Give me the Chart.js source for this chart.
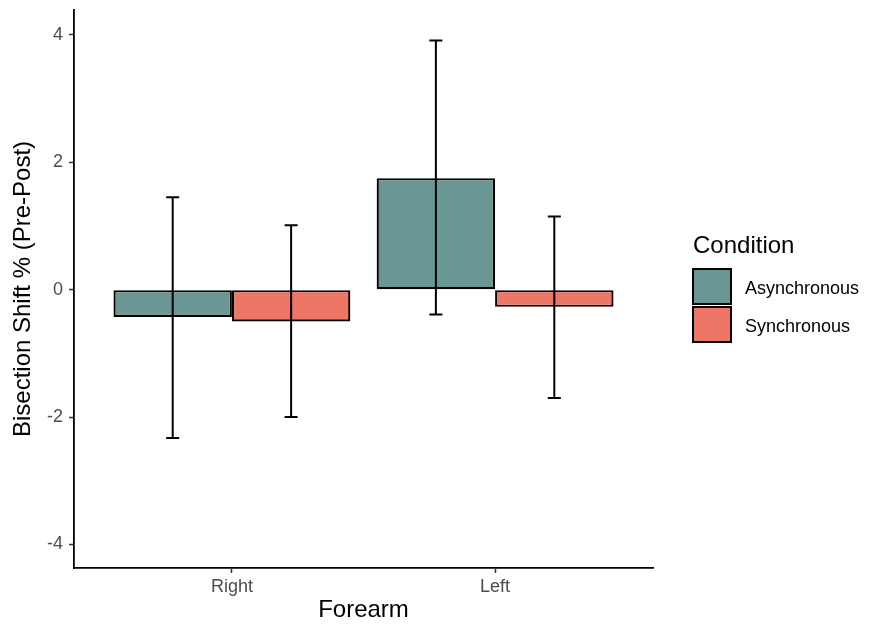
<!DOCTYPE html>
<html>
<head>
<meta charset="utf-8">
<script src="https://cdn.jsdelivr.net/npm/chart.js@4.4.0/dist/chart.umd.min.js"></script>
<style>
  html, body { margin: 0; padding: 0; background: #fff; }
  #box { width: 878px; height: 625px; }
</style>
</head>
<body>
<div id="box"><canvas id="barChart"></canvas></div>
<script>
// Forearm categories (placed at 1 and 2 on the x axis)
const forearm = ['Right', 'Left'];
const forearmPos = [1, 2];

// Asynchronous condition: mean and error bar ends
const asyncMean = [-0.43, 1.75];
const asyncLow  = [-2.33, -0.39];
const asyncHigh = [1.45, 3.91];

// Synchronous condition
const syncMean = [-0.50, -0.27];
const syncLow  = [-2.00, -1.70];
const syncHigh = [1.01, 1.15];

const yTicks = [-4, -2, 0, 2, 4];

const FONT = '"Liberation Sans", Arial, Helvetica, sans-serif';

// error bars drawn on top of the bars
const errorBars = {
  id: 'errorBars',
  afterDatasetsDraw(chart) {
    const ctx = chart.ctx;
    const y = chart.scales.y;
    chart.data.datasets.forEach((ds, i) => {
      const meta = chart.getDatasetMeta(i);
      meta.data.forEach((bar, j) => {
        const top = y.getPixelForValue(ds.errHigh[j]);
        const bot = y.getPixelForValue(ds.errLow[j]);
        ctx.save();
        ctx.strokeStyle = '#000';
        ctx.lineWidth = 2;
        ctx.beginPath();
        ctx.moveTo(bar.x, top); ctx.lineTo(bar.x, bot);
        ctx.moveTo(bar.x - 6.5, top); ctx.lineTo(bar.x + 6.5, top);
        ctx.moveTo(bar.x - 6.5, bot); ctx.lineTo(bar.x + 6.5, bot);
        ctx.stroke();
        ctx.restore();
      });
    });
  }
};

// ggplot style legend on the right
const sideLegend = {
  id: 'sideLegend',
  afterDraw(chart) {
    const ctx = chart.ctx;
    const x0 = chart.chartArea.right + 40;
    ctx.save();
    ctx.fillStyle = '#000';
    ctx.textAlign = 'left';
    ctx.textBaseline = 'alphabetic';
    ctx.font = '24px ' + FONT;
    ctx.fillText('Condition', x0, 253);
    chart.data.datasets.forEach((ds, i) => {
      const top = 269 + i * 38;
      ctx.fillStyle = ds.backgroundColor;
      ctx.fillRect(x0, top, 38, 35);
      ctx.strokeStyle = '#000';
      ctx.lineWidth = 2;
      ctx.strokeRect(x0, top, 38, 35);
      ctx.fillStyle = '#000';
      ctx.font = '18px ' + FONT;
      ctx.fillText(ds.label, x0 + 52, top + 25);
    });
    ctx.restore();
  }
};

const ctx = document.getElementById('barChart').getContext('2d');
const barChart = new Chart(ctx, {
  type: 'bar',
  data: {
    datasets: [
      {
        label: 'Asynchronous',
        data: forearmPos.map((x, i) => ({ x: x, y: asyncMean[i] })),
        errLow: asyncLow,
        errHigh: asyncHigh,
        backgroundColor: '#6A9693',
        borderColor: '#000',
        borderWidth: 2.2,
        borderSkipped: false
      },
      {
        label: 'Synchronous',
        data: forearmPos.map((x, i) => ({ x: x, y: syncMean[i] })),
        errLow: syncLow,
        errHigh: syncHigh,
        backgroundColor: '#ED7667',
        borderColor: '#000',
        borderWidth: 2.2,
        borderSkipped: false
      }
    ]
  },
  options: {
    responsive: true,
    maintainAspectRatio: false,
    animation: false,
    categoryPercentage: 0.9,
    barPercentage: 1,
    layout: { padding: { top: 10, right: 225, left: 0, bottom: 0 } },
    plugins: {
      legend: { display: false },
      tooltip: { enabled: false }
    },
    scales: {
      x: {
        type: 'linear',
        min: 0.4,
        max: 2.6,
        offset: false,
        afterBuildTicks: (scale) => { scale.ticks = forearmPos.map(v => ({ value: v })); },
        afterFit: (scale) => { scale.height = 57; },
        ticks: {
          callback: (v) => forearm[forearmPos.indexOf(v)],
          color: '#4D4D4D',
          font: { family: FONT, size: 18 },
          padding: 3,
          maxRotation: 0
        },
        grid: { drawOnChartArea: false, offset: false, tickLength: 5, tickColor: '#333', tickWidth: 1.5 },
        border: { display: true, color: '#000', width: 1.8 },
        title: {
          display: true,
          text: 'Forearm',
          color: '#000',
          font: { family: FONT, size: 24 },
          padding: { top: 0, bottom: 0 }
        }
      },
      y: {
        min: -4.37,
        max: 4.39,
        afterBuildTicks: (scale) => { scale.ticks = yTicks.map(v => ({ value: v })); },
        afterFit: (scale) => {
          scale.width = 74;
          scale.paddingTop = 0;
          scale.paddingBottom = 0;
        },
        ticks: {
          color: '#4D4D4D',
          font: { family: FONT, size: 18 },
          padding: 6
        },
        grid: { drawOnChartArea: false, tickLength: 5, tickColor: '#333', tickWidth: 1.5 },
        border: { display: true, color: '#000', width: 1.8 },
        title: {
          display: true,
          text: 'Bisection Shift % (Pre-Post)',
          color: '#000',
          font: { family: FONT, size: 24 },
          padding: { top: 9, bottom: 0 }
        }
      }
    }
  },
  plugins: [errorBars, sideLegend]
});
</script>
</body>
</html>
